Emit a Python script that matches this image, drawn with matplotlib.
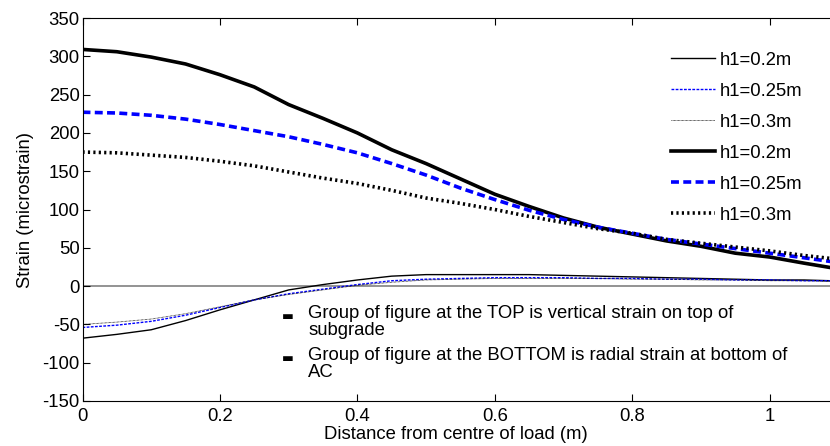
import matplotlib
matplotlib.use("Agg")
import matplotlib.pyplot as plt

plt.rcParams['font.family'] = ['Liberation Sans', 'DejaVu Sans']
plt.rcParams['axes.unicode_minus'] = False

# distance from centre of load (m)
dist = [0, 0.05, 0.1, 0.15, 0.2, 0.25, 0.3, 0.35, 0.4, 0.45, 0.5, 0.55,
        0.6, 0.65, 0.7, 0.75, 0.8, 0.85, 0.9, 0.95, 1.0, 1.05, 1.09]

# radial strain at bottom of AC (thin lines)
ac_02 = [-68, -63, -57, -45, -31, -18, -5, 2, 8, 13, 15, 15,
         15, 15, 14, 13, 12, 11, 10, 9, 8, 8, 7]
ac_025 = [-54, -51, -46, -38, -28, -18, -10, -4, 2, 7, 9, 10,
          11, 11, 11, 10, 10, 9, 9, 8, 8, 7, 7]
ac_03 = [-50, -47, -43, -36, -27, -18, -11, -5, 1, 5, 8, 9,
         10, 10, 10, 10, 9, 9, 8, 8, 7, 7, 6]

# vertical strain on top of subgrade (thick lines)
sg_02 = [309, 306, 299, 290, 276, 260, 237, 219, 200, 178, 160, 140,
         120, 104, 89, 77, 68, 59, 52, 43, 38, 30, 24]
sg_025 = [227, 226, 223, 218, 211, 203, 195, 185, 174, 160, 145, 128,
          113, 99, 87, 77, 69, 61, 55, 49, 43, 37, 32]
sg_03 = [175, 174, 171, 168, 163, 157, 149, 141, 134, 125, 115, 108,
         100, 91, 83, 75, 69, 61, 56, 51, 46, 40, 36]

labels = ['h1=0.2m', 'h1=0.25m', 'h1=0.3m']
notes = ['Group of figure at the TOP is vertical strain on top of\nsubgrade',
         'Group of figure at the BOTTOM is radial strain at bottom of\nAC']

fs = 13.3
fig = plt.figure(figsize=(8.3, 4.46), dpi=100)
ax = fig.add_axes([0.0994, 0.1009, 0.9006, 0.8587])

ax.axhline(0, color='#808080', lw=1.2, zorder=1)

ax.plot(dist, ac_02, color='black', lw=1.0, label=labels[0])
ax.plot(dist, ac_025, color='blue', lw=1.0, dashes=(2, 1), label=labels[1])
ax.plot(dist, ac_03, color='black', lw=0.6, dashes=(0.8, 0.8), label=labels[2])
ax.plot(dist, sg_02, color='black', lw=2.6, label=labels[0])
ax.plot(dist, sg_025, color='blue', lw=2.6, dashes=(2.2, 1.2), label=labels[1])
ax.plot(dist, sg_03, color='black', lw=2.6, dashes=(0.6, 0.9), label=labels[2])

ax.set_xlim(0, 1.088)
ax.set_ylim(-150, 350)
ax.set_xticks([0, 0.2, 0.4, 0.6, 0.8, 1.0])
ax.set_xticklabels(['0', '0.2', '0.4', '0.6', '0.8', '1'])
ax.set_yticks(range(-150, 351, 50))
ax.tick_params(direction='in', top=True, right=False, labelsize=fs, length=5,
               width=0.8)
ax.tick_params(axis='x', pad=5)
ax.tick_params(axis='y', pad=2)
ax.spines['right'].set_visible(False)

ax.set_xlabel('Distance from centre of load (m)', fontsize=fs, labelpad=1)
ax.set_ylabel('Strain (microstrain)', fontsize=fs, labelpad=6)

ax.legend(loc='upper left', bbox_to_anchor=(0.787, 0.912), frameon=False,
          fontsize=fs, handlelength=2.4, handletextpad=0.25, labelspacing=0.76,
          borderpad=0, borderaxespad=0)

for i, note in enumerate(notes):
    y = 0.25 - i * 0.11
    ax.text(0.275, y - 0.012, '\u25ac', transform=ax.transAxes, fontsize=9,
            va='top', ha='center', family=['DejaVu Sans'])
    ax.text(0.302, y, note, transform=ax.transAxes, fontsize=fs, va='top',
            linespacing=0.95)

fig.savefig('out.png', dpi=100)
